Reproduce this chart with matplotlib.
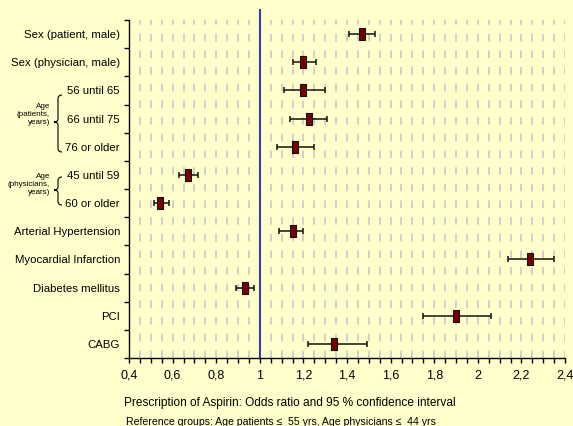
import matplotlib
matplotlib.use("Agg")
import matplotlib.pyplot as plt
from matplotlib.path import Path
from matplotlib.patches import PathPatch
from matplotlib.ticker import MultipleLocator, FixedLocator, FuncFormatter
import numpy as np

plt.rcParams["font.family"] = ["Liberation Sans", "DejaVu Sans"]

categories = ["Sex (patient, male)", "Sex (physician, male)", "56 until 65", "66 until 75",
              "76 or older", "45 until 59", "60 or older", "Arterial Hypertension",
              "Myocardial Infarction", "Diabetes mellitus", "PCI", "CABG"]
odds_ratio = [1.47, 1.20, 1.20, 1.225, 1.16, 0.67, 0.54, 1.15, 2.24, 0.93, 1.90, 1.34]
ci_low =     [1.41, 1.15, 1.11, 1.14, 1.08, 0.63, 0.515, 1.09, 2.14, 0.89, 1.75, 1.22]
ci_high =    [1.53, 1.26, 1.30, 1.31, 1.25, 0.715, 0.585, 1.20, 2.35, 0.975, 2.06, 1.49]
xtick_values = [0.4, 0.6, 0.8, 1.0, 1.2, 1.4, 1.6, 1.8, 2.0, 2.2, 2.4]

W, H = 573, 426
BG = "#FFFFCC"
fig = plt.figure(figsize=(W / 100, H / 100), dpi=100, facecolor=BG)
ax = fig.add_axes([129 / W, 1 - 358 / H, (565 - 129) / W, (358 - 20) / H], facecolor=BG)

y = np.arange(len(categories))
ax.set_xlim(0.4, 2.4)
ax.set_ylim(len(categories) - 0.5, -0.5)

# grid lines every 0.05
for gx in np.arange(0.45, 2.4001, 0.05):
    if abs(gx - 1.0) < 1e-6:
        continue
    ax.axvline(gx, color="#c8c8c8", lw=1.2, dashes=(4.5, 5.5), zorder=0)

ax.axvline(1.0, ymin=0, ymax=1.03, color="#3a3aa8", lw=1.5, clip_on=False, zorder=1)

lo = np.array(odds_ratio) - np.array(ci_low)
hi = np.array(ci_high) - np.array(odds_ratio)
ax.errorbar(odds_ratio, y, xerr=[lo, hi], fmt="none", ecolor="#111111",
            elinewidth=1.1, capsize=2.4, capthick=1.1, zorder=2)

rect = Path([(-0.22, -0.5), (0.22, -0.5), (0.22, 0.5), (-0.22, 0.5), (-0.22, -0.5)],
            [Path.MOVETO, Path.LINETO, Path.LINETO, Path.LINETO, Path.CLOSEPOLY])
ax.plot(odds_ratio, y, linestyle="none", marker=rect, markersize=8.5,
        markerfacecolor="#7a0000", markeredgecolor="#111111", markeredgewidth=0.8, zorder=3)

for s in ["top", "right"]:
    ax.spines[s].set_visible(False)
for s in ["left", "bottom"]:
    ax.spines[s].set_color("black")
    ax.spines[s].set_linewidth(1.0)

ax.set_yticks(y)
ax.set_yticklabels(categories)
ax.yaxis.set_minor_locator(FixedLocator(np.arange(-0.5, len(categories), 1.0)))
ax.tick_params(axis="y", which="major", length=0, pad=6.5, labelsize=8.2, colors="black")
ax.tick_params(axis="y", which="minor", length=3.5, width=1.0, direction="out")

ax.set_xticks(xtick_values)
ax.xaxis.set_major_formatter(FuncFormatter(lambda v, p: ("%g" % round(v, 2)).replace(".", ",")))
ax.xaxis.set_minor_locator(MultipleLocator(0.05))
ax.tick_params(axis="x", which="both", length=3.5, width=1.0, direction="out", labelsize=9, pad=5)

fig.text(0.506, 1 - 403 / H, "Prescription of Aspirin: Odds ratio and 95 % confidence interval",
         ha="center", va="center", fontsize=8.6)
fig.text(0.491, 1 - 422 / H, "Reference groups: Age patients \u2264  55 yrs, Age physicians \u2264  44 yrs",
         ha="center", va="center", fontsize=7.6)

def brace(top, bottom, mid, xv=58, xr=62, xt=54):
    verts = [(xr, top), (xv, top), (xv, top + 4), (xv, mid - 3), (xv, mid), (xt, mid),
             (xv, mid), (xv, mid + 3), (xv, bottom - 4), (xv, bottom), (xr, bottom)]
    codes = [Path.MOVETO, Path.CURVE3, Path.CURVE3, Path.LINETO, Path.CURVE3, Path.CURVE3,
             Path.CURVE3, Path.CURVE3, Path.LINETO, Path.CURVE3, Path.CURVE3]
    v = [(px / W, 1 - py / H) for px, py in verts]
    fig.add_artist(PathPatch(Path(v, codes), transform=fig.transFigure, fill=False,
                             edgecolor="black", lw=0.8))

brace(95, 152, 122)
brace(177, 205, 190)
fig.text(50 / W, 1 - 115 / H, "Age\n(patients,\nyears)", ha="right", va="center",
         fontsize=5.8, linespacing=1.2)
fig.text(50 / W, 1 - 185 / H, "Age\n(physicians,\nyears)", ha="right", va="center",
         fontsize=5.8, linespacing=1.2)

fig.savefig("out.png", dpi=100, facecolor=BG)
